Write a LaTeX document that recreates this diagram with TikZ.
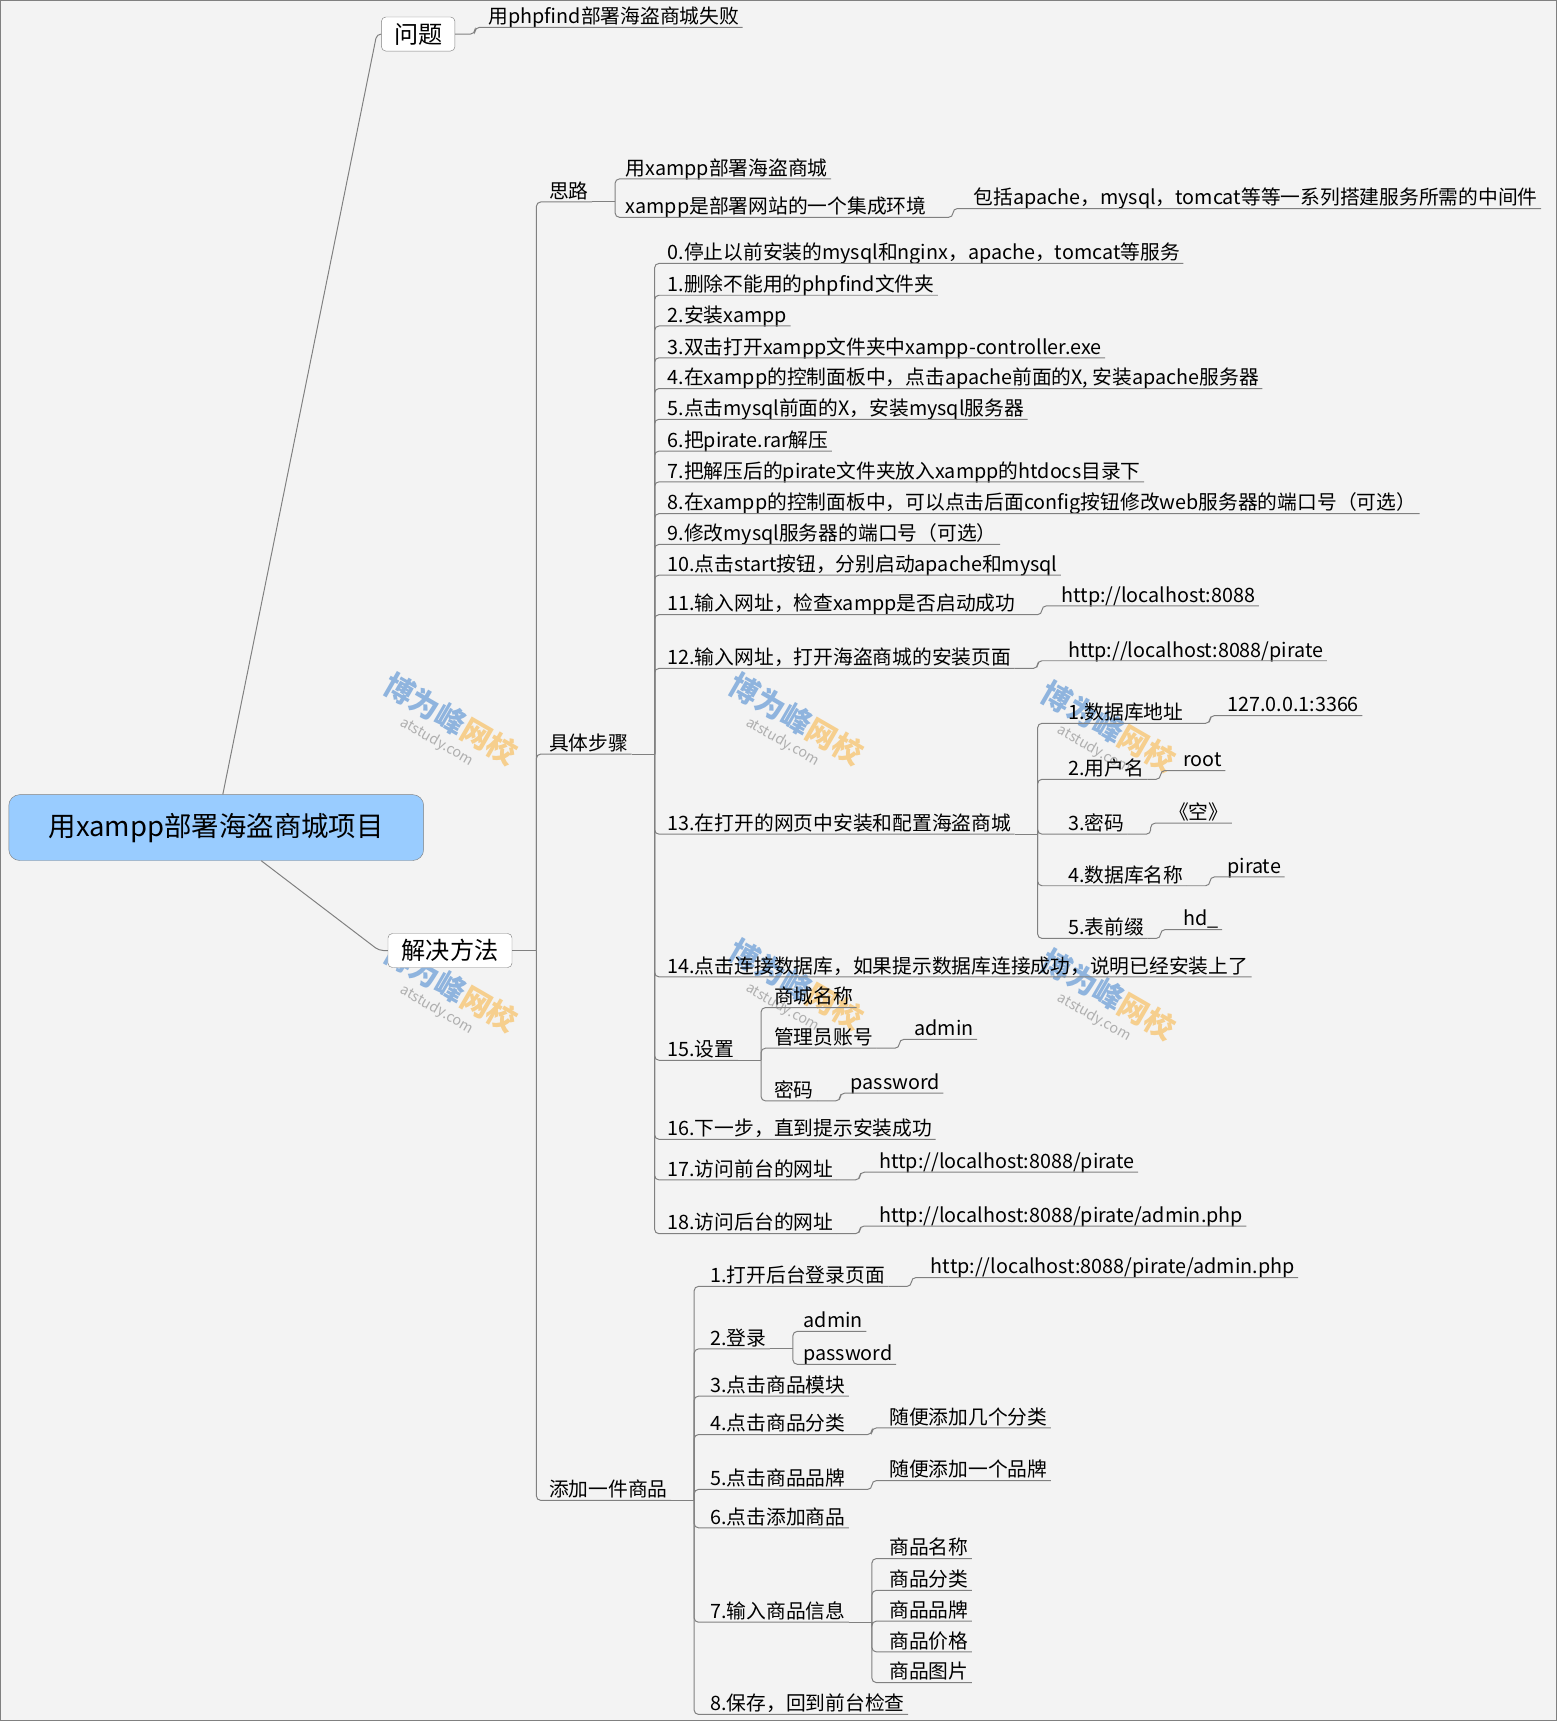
\documentclass[tikz,border=0pt]{standalone}
\usepackage{fontspec}
\setmainfont{Noto Sans CJK SC}
\usetikzlibrary{positioning,calc}
\definecolor{linegray}{RGB}{128,128,128}
\definecolor{rootblue}{RGB}{153,204,255}
\definecolor{bggray}{RGB}{243,243,243}
\definecolor{wmblue}{RGB}{143,180,222}
\definecolor{wmorange}{RGB}{246,207,142}
\definecolor{wmgray}{RGB}{175,175,175}

\tikzset{
  leaf/.style={anchor=south west, inner xsep=3pt, inner ysep=1pt,
    text height=0.85em, text depth=0.22em, font=\fontsize{18}{20}\selectfont},
  link/.style={draw=linegray, line width=0.9pt, rounded corners=4pt},
  topicbox/.style={draw=linegray, fill=white, rounded corners=4pt,
    minimum height=31pt, inner xsep=4pt, font=\fontsize{22}{24}\selectfont},
  rootbox/.style={draw=linegray, fill=rootblue, rounded corners=10pt,
    minimum width=378pt, minimum height=60pt, font=\fontsize{25}{27}\selectfont},
  wm/.style={rotate=-30, font=\fontsize{27}{29}\selectfont\bfseries},
  wmsub/.style={rotate=-30, text=wmgray, font=\fontsize{13}{15}\selectfont}
}

\begin{document}
\begin{tikzpicture}[x=1pt, y=-1pt]
    % background
    \fill[bggray] (0,0) rectangle (1419,1568);
    \draw[linegray, line width=1.2pt] (0.6,0.6) rectangle (1418.4,1567.4);
    \useasboundingbox (0,0) rectangle (1419,1568);

    % watermarks
    \node[wm] (wm1) at (411,655) {\color{wmblue}博为峰\color{wmorange}网校};
    \node[wmsub] (wm1s) at (398,676) {atstudy.com};
    \node[wm] (wm2) at (726,655) {\color{wmblue}博为峰\color{wmorange}网校};
    \node[wmsub] (wm2s) at (713,676) {atstudy.com};
    \node[wm] (wm3) at (1010,662) {\color{wmblue}博为峰\color{wmorange}网校};
    \node[wmsub] (wm3s) at (997,683) {atstudy.com};
    \node[wm] (wm4) at (411,899) {\color{wmblue}博为峰\color{wmorange}网校};
    \node[wmsub] (wm4s) at (398,920) {atstudy.com};
    \node[wm] (wm5) at (726,897) {\color{wmblue}博为峰\color{wmorange}网校};
    \node[wmsub] (wm5s) at (713,918) {atstudy.com};
    \node[wm] (wm6) at (1010,906) {\color{wmblue}博为峰\color{wmorange}网校};
    \node[wmsub] (wm6s) at (997,927) {atstudy.com};

    % root and main topics
    \node[rootbox] (root) at (197,754) {用xampp部署海盗商城项目};
    \node[topicbox, minimum width=67pt] (wenti) at (381,31) {问题};
    \node[topicbox, minimum width=113pt] (jjff) at (410,866) {解决方法};

    % problem
    \node[leaf] (fail) at (442,25) {用phpfind部署海盗商城失败};

    % idea
    \node[leaf] (silu) at (497,184) {思路};
    \node[leaf] (idea1) at (567,163) {用xampp部署海盗商城};
    \node[leaf] (idea2) at (567,198) {xampp是部署网站的一个集成环境};
    \node[leaf] (idea3) at (884,190) {包括apache，mysql，tomcat等等一系列搭建服务所需的中间件};

    % steps
    \node[leaf] (buzhou) at (497,687) {具体步骤};
    \node[leaf] (s0) at (605,240) {0.停止以前安装的mysql和nginx，apache，tomcat等服务};
    \node[leaf] (s1) at (605,269) {1.删除不能用的phpfind文件夹};
    \node[leaf] (s2) at (605,297) {2.安装xampp};
    \node[leaf] (s3) at (605,326) {3.双击打开xampp文件夹中xampp-controller.exe};
    \node[leaf] (s4) at (605,354) {4.在xampp的控制面板中，点击apache前面的X, 安装apache服务器};
    \node[leaf] (s5) at (605,382) {5.点击mysql前面的X，安装mysql服务器};
    \node[leaf] (s6) at (605,411) {6.把pirate.rar解压};
    \node[leaf] (s7) at (605,439) {7.把解压后的pirate文件夹放入xampp的htdocs目录下};
    \node[leaf] (s8) at (605,468) {8.在xampp的控制面板中，可以点击后面config按钮修改web服务器的端口号（可选）};
    \node[leaf] (s9) at (605,496) {9.修改mysql服务器的端口号（可选）};
    \node[leaf] (s10) at (605,524) {10.点击start按钮，分别启动apache和mysql};
    \node[leaf] (s11) at (605,560) {11.输入网址，检查xampp是否启动成功};
    \node[leaf] (s11v) at (964,552) {http://localhost:8088};
    \node[leaf] (s12) at (605,609) {12.输入网址，打开海盗商城的安装页面};
    \node[leaf] (s12v) at (970,602) {http://localhost:8088/pirate};
    \node[leaf] (s13) at (605,760) {13.在打开的网页中安装和配置海盗商城};
    \node[leaf] (db1) at (970,659) {1.数据库地址};
    \node[leaf] (db1v) at (1115,652) {127.0.0.1:3366};
    \node[leaf] (db2) at (970,710) {2.用户名};
    \node[leaf] (db2v) at (1075,702) {root};
    \node[leaf] (db3) at (970,760) {3.密码};
    \node[leaf] (db3v) at (1062,750) {《空》};
    \node[leaf] (db4) at (970,807) {4.数据库名称};
    \node[leaf] (db4v) at (1115,799) {pirate};
    \node[leaf] (db5) at (970,855) {5.表前缀};
    \node[leaf] (db5v) at (1075,847) {hd\_};
    \node[leaf] (s14) at (605,890) {14.点击连接数据库，如果提示数据库连接成功，说明已经安装上了};
    \node[leaf] (s15) at (605,966) {15.设置};
    \node[leaf] (set1) at (702,918) {商城名称};
    \node[leaf] (set2) at (702,955) {管理员账号};
    \node[leaf] (set2v) at (830,947) {admin};
    \node[leaf] (set3) at (702,1003) {密码};
    \node[leaf] (set3v) at (772,996) {password};
    \node[leaf] (s16) at (605,1038) {16.下一步，直到提示安装成功};
    \node[leaf] (s17) at (605,1075) {17.访问前台的网址};
    \node[leaf] (s17v) at (798,1068) {http://localhost:8088/pirate};
    \node[leaf] (s18) at (605,1124) {18.访问后台的网址};
    \node[leaf] (s18v) at (798,1117) {http://localhost:8088/pirate/admin.php};

    % add a product
    \node[leaf] (tianjia) at (497,1367) {添加一件商品};
    \node[leaf] (a1) at (644,1172) {1.打开后台登录页面};
    \node[leaf] (a1v) at (845,1164) {http://localhost:8088/pirate/admin.php};
    \node[leaf] (a2) at (644,1229) {2.登录};
    \node[leaf] (a2u) at (729,1213) {admin};
    \node[leaf] (a2p) at (729,1243) {password};
    \node[leaf] (a3) at (644,1272) {3.点击商品模块};
    \node[leaf] (a4) at (644,1307) {4.点击商品分类};
    \node[leaf] (a4v) at (807,1301) {随便添加几个分类};
    \node[leaf] (a5) at (644,1357) {5.点击商品品牌};
    \node[leaf] (a5v) at (807,1349) {随便添加一个品牌};
    \node[leaf] (a6) at (644,1392) {6.点击添加商品};
    \node[leaf] (a7) at (644,1478) {7.输入商品信息};
    \node[leaf] (info1) at (807,1420) {商品名称};
    \node[leaf] (info2) at (807,1449) {商品分类};
    \node[leaf] (info3) at (807,1477) {商品品牌};
    \node[leaf] (info4) at (807,1505) {商品价格};
    \node[leaf] (info5) at (807,1533) {商品图片};
    \node[leaf] (a8) at (644,1562) {8.保存，回到前台检查};

    % root links
    \draw[link] ([xshift=6pt]root.north) -- ([xshift=-4pt]wenti.west) -- (wenti.west);
    \draw[link] ([xshift=41pt]root.south) -- ([xshift=-8pt]jjff.west) -- (jjff.west);
    \draw[link] (wenti.east) -- ++(18,0) |- (fail.south east);
    \draw[link] (jjff.east) -- ++(22,0) coordinate (jjbar);
    \draw[link] (jjbar) |- (silu.south east);
    \draw[link] (jjbar) |- (buzhou.south east);
    \draw[link] (jjbar) |- (tianjia.south east);

    % idea links
    \draw[link] (silu.south east) -- ++(21,0) coordinate (silubar);
    \draw[link] (silubar) |- (idea1.south east);
    \draw[link] (silubar) |- (idea2.south east);
    \draw[link] (idea2.south east) -- ++(21,0) |- (idea3.south east);

    % step links
    \draw[link] (buzhou.south east) -- ++(21,0) coordinate (bzbar);
    \draw[link] (bzbar) |- (s0.south east);
    \draw[link] (bzbar) |- (s1.south east);
    \draw[link] (bzbar) |- (s2.south east);
    \draw[link] (bzbar) |- (s3.south east);
    \draw[link] (bzbar) |- (s4.south east);
    \draw[link] (bzbar) |- (s5.south east);
    \draw[link] (bzbar) |- (s6.south east);
    \draw[link] (bzbar) |- (s7.south east);
    \draw[link] (bzbar) |- (s8.south east);
    \draw[link] (bzbar) |- (s9.south east);
    \draw[link] (bzbar) |- (s10.south east);
    \draw[link] (bzbar) |- (s11.south east);
    \draw[link] (bzbar) |- (s12.south east);
    \draw[link] (bzbar) |- (s13.south east);
    \draw[link] (bzbar) |- (s14.south east);
    \draw[link] (bzbar) |- (s15.south east);
    \draw[link] (bzbar) |- (s16.south east);
    \draw[link] (bzbar) |- (s17.south east);
    \draw[link] (bzbar) |- (s18.south east);
    \draw[link] (s11.south east) -- ++(21,0) |- (s11v.south east);
    \draw[link] (s12.south east) -- ++(21,0) |- (s12v.south east);
    \draw[link] (s13.south east) -- ++(21,0) coordinate (dbbar);
    \draw[link] (dbbar) |- (db1.south east);
    \draw[link] (dbbar) |- (db2.south east);
    \draw[link] (dbbar) |- (db3.south east);
    \draw[link] (dbbar) |- (db4.south east);
    \draw[link] (dbbar) |- (db5.south east);
    \draw[link] (db1.south east) -- ++(21,0) |- (db1v.south east);
    \draw[link] (db2.south east) -- ++(12,0) |- (db2v.south east);
    \draw[link] (db3.south east) -- ++(21,0) |- (db3v.south east);
    \draw[link] (db4.south east) -- ++(21,0) |- (db4v.south east);
    \draw[link] (db5.south east) -- ++(12,0) |- (db5v.south east);
    \draw[link] (s15.south east) -- ++(21,0) coordinate (setbar);
    \draw[link] (setbar) |- (set1.south east);
    \draw[link] (setbar) |- (set2.south east);
    \draw[link] (setbar) |- (set3.south east);
    \draw[link] (set2.south east) -- ++(21,0) |- (set2v.south east);
    \draw[link] (set3.south east) -- ++(21,0) |- (set3v.south east);
    \draw[link] (s17.south east) -- ++(21,0) |- (s17v.south east);
    \draw[link] (s18.south east) -- ++(21,0) |- (s18v.south east);

    % product links
    \draw[link] (tianjia.south east) -- ++(21,0) coordinate (tjbar);
    \draw[link] (tjbar) |- (a1.south east);
    \draw[link] (tjbar) |- (a2.south east);
    \draw[link] (tjbar) |- (a3.south east);
    \draw[link] (tjbar) |- (a4.south east);
    \draw[link] (tjbar) |- (a5.south east);
    \draw[link] (tjbar) |- (a6.south east);
    \draw[link] (tjbar) |- (a7.south east);
    \draw[link] (tjbar) |- (a8.south east);
    \draw[link] (a1.south east) -- ++(21,0) |- (a1v.south east);
    \draw[link] (a2.south east) -- ++(21,0) coordinate (loginbar);
    \draw[link] (loginbar) |- (a2u.south east);
    \draw[link] (loginbar) |- (a2p.south east);
    \draw[link] (a4.south east) -- ++(21,0) |- (a4v.south east);
    \draw[link] (a5.south east) -- ++(21,0) |- (a5v.south east);
    \draw[link] (a7.south east) -- ++(21,0) coordinate (infobar);
    \draw[link] (infobar) |- (info1.south east);
    \draw[link] (infobar) |- (info2.south east);
    \draw[link] (infobar) |- (info3.south east);
    \draw[link] (infobar) |- (info4.south east);
    \draw[link] (infobar) |- (info5.south east);
\end{tikzpicture}
\end{document}
